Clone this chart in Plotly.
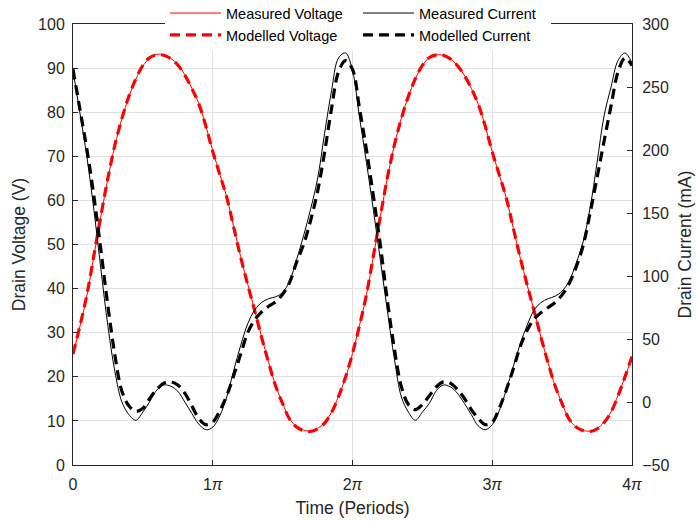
import numpy as np
import plotly.graph_objects as go

# Time axis in units of pi (0 .. 4 pi), sampled every 0.05 pi
time_pi = np.round(np.arange(0, 4.0001, 0.05), 2).tolist()

# Drain voltage (V)
measured_voltage = [
    25.0, 31.5, 38.5, 47.5, 56.5, 65.0, 72.5, 78.5, 83.5, 87.5,
    90.5, 92.3, 93.1, 93.0, 92.2, 90.8, 88.5, 85.5, 82.0, 77.0,
    71.2, 66.0, 60.8, 54.0, 47.2, 41.0, 35.1, 29.0, 23.3, 18.0,
    14.0, 10.5, 8.7, 7.9, 7.7, 8.3, 9.6, 12.0, 15.6, 19.8,
    25.3, 31.7, 38.6, 47.4, 56.4, 65.2, 72.6, 78.7, 83.6, 87.6,
    90.6, 92.4, 93.0, 92.9, 92.1, 90.6, 88.4, 85.4, 81.8, 76.8,
    71.0, 65.8, 60.6, 53.8, 47.0, 40.8, 34.9, 28.8, 23.1, 17.9,
    13.9, 10.4, 8.6, 7.8, 7.7, 8.3, 9.7, 12.1, 15.8, 20.0,
    24.5,
]
modelled_voltage = [
    25.2, 31.6, 38.7, 47.6, 56.6, 65.1, 72.6, 78.6, 83.6, 87.6,
    90.6, 92.4, 93.0, 92.9, 92.1, 90.7, 88.4, 85.4, 81.9, 76.9,
    71.1, 65.9, 60.7, 53.9, 47.1, 40.9, 35.0, 28.9, 23.2, 17.9,
    13.9, 10.4, 8.6, 7.8, 7.6, 8.2, 9.5, 11.9, 15.5, 19.9,
    25.3, 31.6, 38.7, 47.5, 56.5, 65.2, 72.6, 78.6, 83.6, 87.6,
    90.6, 92.4, 93.0, 92.9, 92.1, 90.6, 88.4, 85.4, 81.8, 76.8,
    71.0, 65.8, 60.6, 53.8, 47.0, 40.8, 34.9, 28.8, 23.1, 17.9,
    13.9, 10.4, 8.6, 7.8, 7.6, 8.2, 9.6, 12.0, 15.7, 20.0,
    24.6,
]

# Drain current (mA)
measured_current = [
    263, 229, 194, 152, 105, 60, 24, 0, -10, -14.5,
    -8, 0.5, 9.5, 13.5, 12.5, 8.5, 0, -9, -17.5, -22,
    -20, -11, 4, 25, 45, 62, 73, 79, 82, 83.5,
    87, 96, 113, 132, 153, 177, 213, 247, 273, 277,
    263, 226, 190, 152, 112, 72, 34, 4, -8, -14.5,
    -8, -1, 9, 13.5, 12, 7, -1, -10, -19, -22,
    -18, -7, 9.5, 28, 46, 61, 73, 79, 82, 84,
    88, 96, 110, 127, 154, 190, 227, 250, 271, 277,
    269,
]
modelled_current = [
    264, 232, 200, 163, 120, 76, 37, 8.5, -3, -7.5,
    -5, 3, 10, 15, 16, 13.5, 7, -3, -13, -18,
    -16, -7, 5, 21, 38, 55, 65, 71.5, 76, 79.5,
    85.5, 95, 111, 125, 144, 167, 198, 233, 262, 271,
    264, 233, 200, 163, 124, 80, 42, 12, -2, -6,
    -2, 5, 12, 16, 15, 10, 3, -6, -13, -18,
    -16, -5, 9.5, 26, 44, 57, 66, 71, 75, 79,
    85, 94, 107, 124, 150, 178, 207, 235, 262, 273,
    267,
]

x_tick_vals = [0, 1, 2, 3, 4]
x_tick_text = ["0", "1<i>π</i>", "2<i>π</i>", "3<i>π</i>", "4<i>π</i>"]

FONT = "Liberation Sans, Arial, Helvetica, sans-serif"
AX = "#262626"
GRID = "#e2e2e2"
TICK_SIZE = 16
TITLE_SIZE = 17.5

fig = go.Figure()

fig.add_trace(go.Scatter(
    x=time_pi, y=measured_voltage, name="Measured Voltage", mode="lines",
    line=dict(color="#ff0000", width=1, shape="spline"), legendrank=1,
))
fig.add_trace(go.Scatter(
    x=time_pi, y=modelled_voltage, name="Modelled Voltage", mode="lines",
    line=dict(color="#ff0000", width=3.2, dash="10px,6px", shape="spline"), legendrank=3,
))
fig.add_trace(go.Scatter(
    x=time_pi, y=measured_current, name="Measured Current", mode="lines", yaxis="y2",
    line=dict(color="#000000", width=1, shape="spline"), legendrank=2,
))
fig.add_trace(go.Scatter(
    x=time_pi, y=modelled_current, name="Modelled Current", mode="lines", yaxis="y2",
    line=dict(color="#000000", width=3.2, dash="10px,6px", shape="spline"), legendrank=4,
))

fig.update_layout(
    width=697, height=521,
    margin=dict(l=73, r=65, t=24, b=56, pad=0, autoexpand=False),
    paper_bgcolor="white", plot_bgcolor="white",
    font=dict(family=FONT, size=TICK_SIZE, color=AX),
    showlegend=True,
    xaxis=dict(
        range=[0, 4], tickvals=x_tick_vals, ticktext=x_tick_text,
        ticks="inside", ticklen=5, tickcolor=AX, tickwidth=1,
        showline=True, linecolor=AX, linewidth=1, mirror=True,
        showgrid=True, gridcolor=GRID, gridwidth=1, zeroline=False,
        tickfont=dict(size=TICK_SIZE, color=AX), ticklabelstandoff=5,
        title=dict(text="Time (Periods)", font=dict(size=TITLE_SIZE, color=AX), standoff=9),
    ),
    yaxis=dict(
        range=[0, 100], tickmode="linear", tick0=0, dtick=10,
        ticks="inside", ticklen=5, tickcolor=AX, tickwidth=1,
        showline=True, linecolor=AX, linewidth=1,
        showgrid=True, gridcolor=GRID, gridwidth=1, zeroline=False,
        tickfont=dict(size=TICK_SIZE, color=AX), ticklabelstandoff=4,
        title=dict(text="Drain Voltage (V)", font=dict(size=TITLE_SIZE, color=AX), standoff=7),
    ),
    yaxis2=dict(
        range=[-50, 300], tickmode="linear", tick0=-50, dtick=50,
        overlaying="y", side="right",
        ticks="inside", ticklen=5, tickcolor=AX, tickwidth=1,
        showline=True, linecolor=AX, linewidth=1,
        showgrid=False, zeroline=False,
        tickfont=dict(size=TICK_SIZE, color=AX), ticklabelstandoff=6,
        title=dict(text="Drain Current (mA)", font=dict(size=TITLE_SIZE, color=AX), standoff=10),
    ),
    legend=dict(
        orientation="h", x=0.1646, xanchor="left", y=1.061, yanchor="top",
        bgcolor="white", borderwidth=0, itemwidth=51, entrywidth=127,
        traceorder="normal", tracegroupgap=0,
        font=dict(family=FONT, size=14.5, color="#000000"),
    ),
)

fig.write_html("out.html")
